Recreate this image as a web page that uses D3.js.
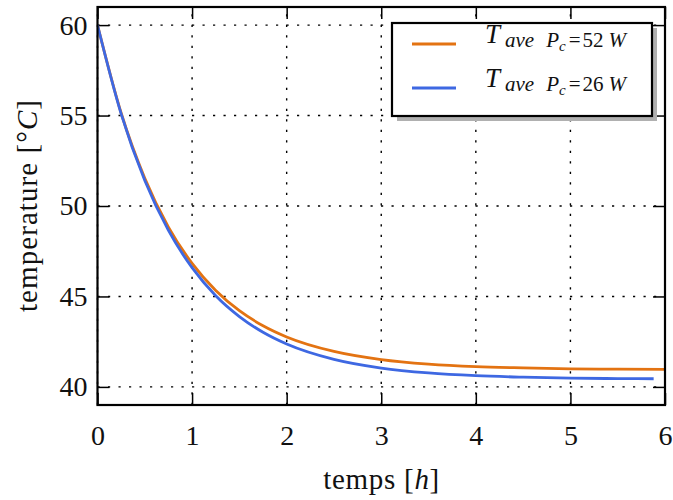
<!DOCTYPE html>
<html><head><meta charset="utf-8">
<script src="https://cdn.jsdelivr.net/npm/d3@7"></script>
<style>body{margin:0;background:#fff}</style>
</head><body><svg id="c" width="673" height="500"></svg>
<script>
const time52 = [0,0.25,0.5,0.75,1,1.25,1.5,1.75,2,2.5,3,3.5,4,4.5,5,5.5,6];
const temp52 = [60,55.14,51.53,48.83,46.83,45.33,44.21,43.38,42.76,41.96,41.51,41.26,41.12,41.05,41.00,40.98,40.97];
const time26 = [0,0.25,0.5,0.75,1,1.25,1.5,1.75,2,2.5,3,3.5,4,4.5,5,5.5,5.88];
const temp26 = [60,55.09,51.41,48.65,46.59,45.04,43.89,43.02,42.37,41.52,41.04,40.77,40.62,40.54,40.49,40.46,40.45];
const xTicks = [0,1,2,3,4,5,6];
const yTicks = [40,45,50,55,60];
const powers = ["52","26"];
const colors = ["#e37312","#3e68e2"];

const svg = d3.select("#c");
const L=97.5, R=665, T=7, B=405;
const x = d3.scaleLinear().domain([0,6]).range([L,R]);
const y = d3.scaleLinear().domain([39,61]).range([B,T]);
const font = "'Liberation Serif', 'Times New Roman', serif";

svg.append("defs").append("clipPath").attr("id","clip")
  .append("rect").attr("x",L).attr("y",T).attr("width",R-L).attr("height",B-T);

// grid
const grid = svg.append("g").attr("stroke","#000").attr("stroke-width",1.4).attr("stroke-dasharray","2.2,8.3");
grid.selectAll("line.v").data(xTicks).join("line").attr("class","v")
  .attr("x1",d=>x(d)).attr("x2",d=>x(d)).attr("y1",B).attr("y2",T);
grid.selectAll("line.h").data(yTicks).join("line").attr("class","h")
  .attr("y1",d=>y(d)).attr("y2",d=>y(d)).attr("x1",L).attr("x2",R);

// axes with inward ticks
const tl = 12;
const ax = svg.append("g");
ax.append("g").attr("transform",`translate(0,${B})`)
  .call(d3.axisBottom(x).tickValues(xTicks).tickFormat(d3.format("d")).tickSizeInner(-tl).tickSizeOuter(0).tickPadding(tl+8))
  .call(g=>{g.select(".domain").remove(); g.selectAll("line").attr("stroke-width",1.5);
            g.selectAll("text").attr("fill","#111").attr("font-family",font).attr("font-size",28);});
ax.append("g").attr("transform",`translate(0,${T})`)
  .call(d3.axisTop(x).tickValues(xTicks).tickSizeInner(-tl).tickSizeOuter(0).tickFormat(""))
  .call(g=>{g.select(".domain").remove(); g.selectAll("line").attr("stroke-width",1.5);});
ax.append("g").attr("transform",`translate(${L},0)`)
  .call(d3.axisLeft(y).tickValues(yTicks).tickSizeInner(-tl).tickSizeOuter(0).tickPadding(10))
  .call(g=>{g.select(".domain").remove(); g.selectAll("line").attr("stroke-width",1.5);
            g.selectAll("text").attr("fill","#111").attr("font-family",font).attr("font-size",28);});
ax.append("g").attr("transform",`translate(${R},0)`)
  .call(d3.axisRight(y).tickValues(yTicks).tickSizeInner(-tl).tickSizeOuter(0).tickFormat(""))
  .call(g=>{g.select(".domain").remove(); g.selectAll("line").attr("stroke-width",1.5);});

// lines
const line = d3.line().x(d=>x(d[0])).y(d=>y(d[1])).curve(d3.curveMonotoneX);
const series = [d3.zip(time52,temp52), d3.zip(time26,temp26)];
svg.append("g").attr("clip-path","url(#clip)").selectAll("path").data(series).join("path")
  .attr("d",line).attr("fill","none").attr("stroke",(d,i)=>colors[i]).attr("stroke-width",2.8);

// frame
svg.append("rect").attr("x",L).attr("y",T).attr("width",R-L).attr("height",B-T)
  .attr("fill","none").attr("stroke","#000").attr("stroke-width",2.2);

// axis labels
svg.append("text").attr("x",(L+R)/2).attr("y",489).attr("text-anchor","middle")
  .attr("font-family",font).attr("font-size",29).attr("fill","#111").attr("textLength",116)
  .call(t=>{t.append("tspan").text("temps [");t.append("tspan").attr("font-style","italic").text("h");t.append("tspan").text("]");});
svg.append("text").attr("transform",`translate(37,${(T+B)/2}) rotate(-90)`).attr("text-anchor","middle")
  .attr("font-family",font).attr("font-size",29).attr("fill","#111").attr("textLength",212)
  .call(t=>{t.append("tspan").text("temperature [°");t.append("tspan").attr("font-style","italic").text("C");t.append("tspan").text("]");});

// legend
const lg = svg.append("g");
const bx=392, by=23, bw=260, bh=93;
lg.append("rect").attr("x",bx+5).attr("y",by+5).attr("width",bw).attr("height",bh).attr("fill","#b0b0b0");
lg.append("rect").attr("x",bx).attr("y",by).attr("width",bw).attr("height",bh).attr("fill","#fff")
  .attr("stroke","#000").attr("stroke-width",2.2);
powers.forEach((p,i)=>{
  const yy = 44 + i*44;
  lg.append("line").attr("x1",412).attr("x2",456).attr("y1",yy).attr("y2",yy)
    .attr("stroke",colors[i]).attr("stroke-width",2.8);
  lg.append("text").attr("x",485).attr("y",yy-1).attr("font-family",font).attr("font-size",27)
    .attr("font-style","italic").attr("fill","#111").text("T");
  const s = lg.append("text").attr("x",505).attr("y",yy+3).attr("font-family",font).attr("font-size",21)
    .attr("fill","#111");
  s.append("tspan").attr("font-style","italic").text("ave");
  s.append("tspan").attr("font-style","italic").attr("dx",12).text("P");
  s.append("tspan").attr("font-style","italic").attr("font-size",15).attr("dy",4).text("c");
  s.append("tspan").attr("dy",-4).attr("dx",3).text("=");
  s.append("tspan").attr("dx",2).text(p);
  s.append("tspan").attr("font-style","italic").attr("dx",5).text("W");
});
</script></body></html>
